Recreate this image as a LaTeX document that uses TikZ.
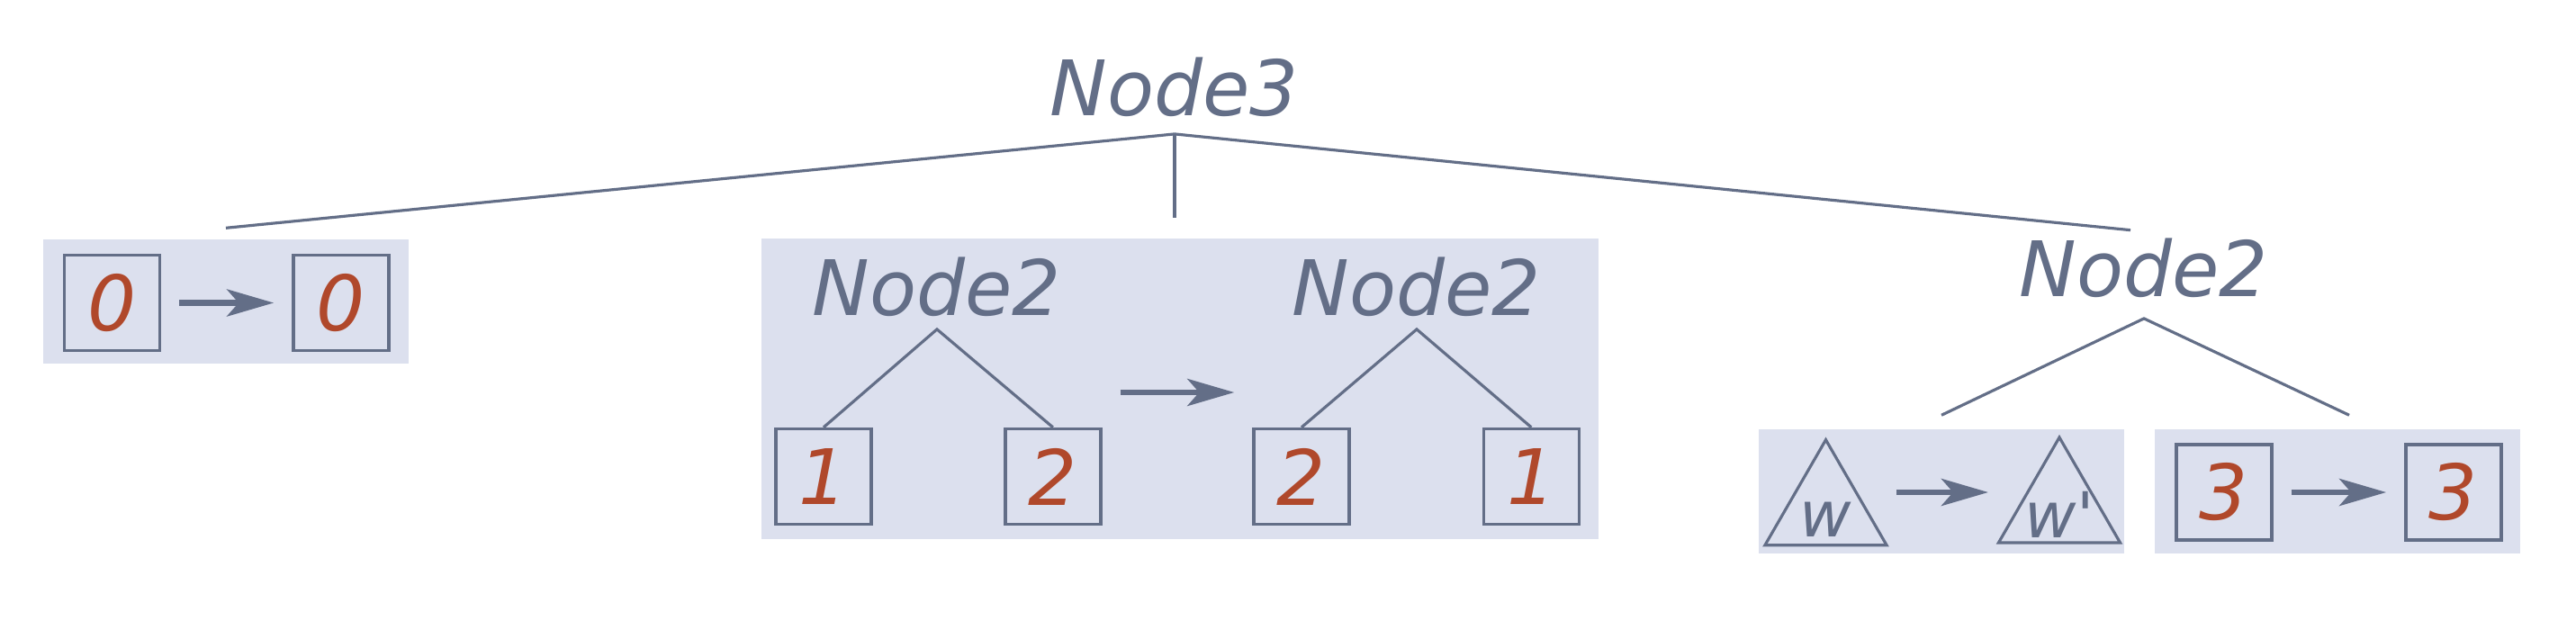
\documentclass[tikz,border=0pt]{standalone}
\usepackage{fontspec}
\newfontfamily\dejavu[Ligatures=TeXOff]{DejaVu Sans}
\usetikzlibrary{arrows.meta,positioning,shapes.geometric}

\definecolor{slate}{HTML}{636E87}
\definecolor{panelblue}{HTML}{DCE0EE}
\definecolor{rust}{HTML}{B0482B}

\begin{document}
\begin{tikzpicture}[
    title/.style={font=\dejavu\itshape\fontsize{24.2}{29}\selectfont,
                  text=slate,inner sep=0pt,anchor=base},
    panel/.style={fill=panelblue,draw=none,inner sep=0pt,
                  minimum width=4.06cm,minimum height=1.38cm},
    leaf/.style={draw=slate,line width=0.95pt,inner sep=0pt,
                 minimum width=1.06cm,minimum height=1.06cm,
                 font=\dejavu\itshape\fontsize{24.2}{29}\selectfont,text=rust},
    subtree/.style={draw=slate,line width=0.9pt,inner sep=0pt,
                    regular polygon,regular polygon sides=3,minimum size=1.56cm,
                    font=\dejavu\itshape\fontsize{20}{24}\selectfont,text=slate},
    branch/.style={draw=slate,line width=0.9pt},
    arr/.style={-{Stealth[length=5.2mm,width=3.0mm,inset=1.3mm]},draw=slate,
                line width=1.9pt,shorten <=2mm,shorten >=2mm},
]

\useasboundingbox (0,0) rectangle (28.62,-6.90);

% ---- Backgrounds ---------------------------------------------------------
\node[panel] (p0) at (2.51,-3.35) {};
\node[panel,minimum width=9.30cm,minimum height=3.34cm] (p1) at (13.11,-4.32) {};
\node[panel] (p2) at (21.57,-5.46) {};
\node[panel] (p3) at (25.97,-5.46) {};

% ---- Root ----------------------------------------------------------------
\node[title] (root) at (13.05,-1.28) {Node3};
\coordinate (fork) at ([yshift=-0.19cm]root.south);

% ---- Left: leaf 0 unchanged ----------------------------------------------
\node[leaf] (b0a) at (1.245,-3.365) {0};
\node[leaf,right=1.45cm of b0a] (b0b) {0};
\draw[arr] (b0a) -- (b0b);

% ---- Middle: Node2 children swapped --------------------------------------
\node[title] (n2a) at (10.41,-3.50) {Node2};
\node[leaf] (b1a) at (9.15,-5.295) {1};
\node[leaf,right=1.455cm of b1a] (b2a) {2};
\draw[branch] (b1a.north) -- ([yshift=-0.14cm]n2a.south) -- (b2a.north);

\node[title] (n2b) at (15.74,-3.50) {Node2};
\node[leaf] (b2b) at (14.46,-5.295) {2};
\node[leaf,right=1.46cm of b2b] (b1b) {1};
\draw[branch] (b2b.north) -- ([yshift=-0.14cm]n2b.south) -- (b1b.north);

\coordinate (mid) at (13.06,-4.36);
\draw[arr] (b2a.east |- mid) -- (b2b.west |- mid);

% ---- Right: Node2 with subtree w and leaf 3 ------------------------------
\node[title] (n2c) at (23.82,-3.29) {Node2};
\draw[branch] ([yshift=0.15cm]p2.north) -- ([yshift=-0.23cm]n2c.south)
    -- ([xshift=0.13cm,yshift=0.15cm]p3.north);

\node[subtree] (t0) at (20.285,-5.667) {\smash{\raisebox{-3.0mm}{\makebox[0pt]{w}}}};
\node[subtree] (t1) at (22.88,-5.64) {\smash{\raisebox{-3.3mm}{\makebox[0pt]{w'}}}};
\coordinate (tmid) at (21.58,-5.47);
\draw[arr,shorten <=0mm,shorten >=0mm] ([xshift=-0.51cm]tmid) -- ([xshift=0.51cm]tmid);

\node[leaf] (b3a) at (24.71,-5.47) {3};
\node[leaf,right=1.455cm of b3a] (b3b) {3};
\draw[arr] (b3a) -- (b3b);

% ---- Root edges ----------------------------------------------------------
\draw[branch] ([yshift=0.12cm]p0.north) -- (fork)
    -- ([xshift=-0.15cm,yshift=0.08cm]n2c.north);
\draw[branch] (fork) -- ([yshift=0.22cm]p1.north -| fork);

\end{tikzpicture}
\end{document}
